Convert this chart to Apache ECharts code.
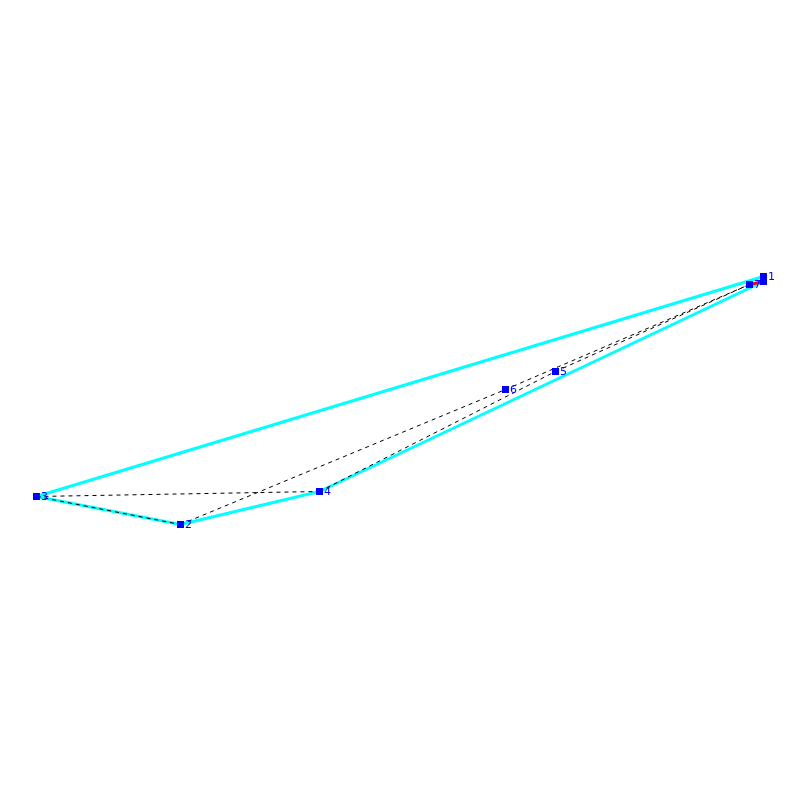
<!DOCTYPE html>
<html>
<head>
<meta charset="utf-8">
<style>
html, body { margin: 0; padding: 0; background: #fff; }
#main { width: 800px; height: 800px; }
</style>
<script src="https://cdn.jsdelivr.net/npm/echarts@6/dist/echarts.min.js"></script>
</head>
<body>
<div id="main"></div>
<script>
// node readings, last one has no visible label
var nodeNames = ['1', '2', '3', '4', '5', '6', '7', ''];
var nodeX = [763.5, 180.5, 36.5, 319.5, 555.5, 505.5, 749.5, 763.5];
var nodeY = [276.5, 524.5, 496.5, 491.5, 371.5, 389.5, 284.5, 281.5];

// edges as node numbers
var outline = [1, 3, 2, 4, 8, 1];
var dashedEdges = [[3, 2], [3, 4], [2, 6], [4, 5], [6, 7], [5, 7]];
var redEdges = [[7, 8]];

function pt(n) {
    return [nodeX[n - 1], nodeY[n - 1]];
}

function edgeSeries(edge, color, width, type, z) {
    return {
        type: 'line',
        data: edge.map(pt),
        showSymbol: false,
        silent: true,
        z: z,
        lineStyle: { color: color, width: width, type: type }
    };
}

var series = [edgeSeries(outline, '#00ffff', 3, 'solid', 2)];
dashedEdges.forEach(function (e) {
    series.push(edgeSeries(e, '#000000', 1, [4, 4], 3));
});
redEdges.forEach(function (e) {
    series.push(edgeSeries(e, '#ff0000', 3, 'solid', 4));
});
series.push({
    type: 'scatter',
    symbol: 'rect',
    symbolSize: 7,
    z: 5,
    itemStyle: { color: '#0000ff', opacity: 1 },
    label: {
        show: true,
        position: 'right',
        distance: 1,
        offset: [0, 1],
        color: '#0000ff',
        fontFamily: 'DejaVu Sans',
        fontSize: 11,
        formatter: function (p) { return p.name; }
    },
    data: nodeNames.map(function (name, i) {
        return { name: name, value: [nodeX[i], nodeY[i]] };
    })
});

var myChart = echarts.init(document.getElementById('main'));
myChart.setOption({
    animation: false,
    backgroundColor: '#ffffff',
    grid: { left: 0, right: 0, top: 0, bottom: 0 },
    xAxis: { type: 'value', min: 0, max: 800, show: false },
    yAxis: { type: 'value', min: 0, max: 800, inverse: true, show: false },
    series: series
});
</script>
</body>
</html>
